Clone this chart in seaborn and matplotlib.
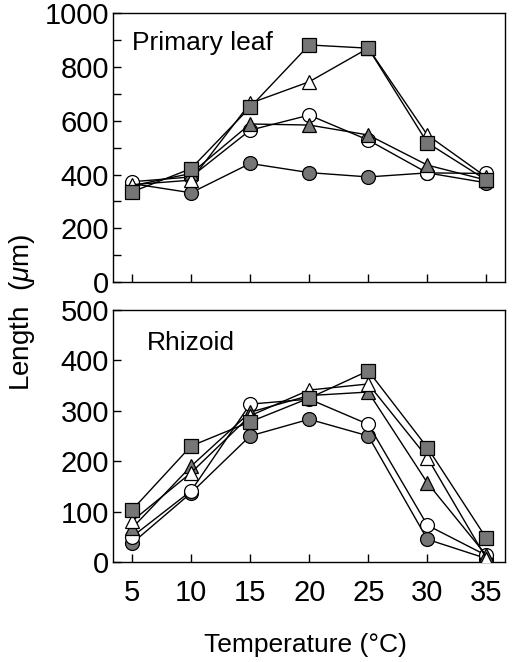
import numpy as np
import pandas as pd
import seaborn as sns
import matplotlib.pyplot as plt

# Temperatures (deg C)
temps = [5, 10, 15, 20, 25, 30, 35]

# Primary leaf length (um)
leaf_sq_filled = [335, 422, 650, 882, 870, 518, 379]
leaf_tri_open = [362, 379, 665, 745, 870, 547, 390]
leaf_circ_open = [373, 391, 565, 621, 528, 406, 404]
leaf_tri_filled = [358, 404, 588, 584, 547, 435, 379]
leaf_circ_filled = [366, 332, 441, 407, 391, 406, 369]

# Rhizoid length (um)
rhiz_sq_filled = [103, 230, 278, 325, 379, 227, 47]
rhiz_tri_open = [81, 177, 290, 341, 353, 207, 7]
rhiz_tri_filled = [67, 190, 297, 330, 337, 157, 13]
rhiz_circ_open = [50, 141, 313, 323, 273, 73, 13]
rhiz_circ_filled = [37, 137, 250, 283, 250, 45, 7]

sns.set_theme(style="ticks")
plt.rcParams['font.family'] = ['Liberation Sans', 'DejaVu Sans']
plt.rcParams['mathtext.fontset'] = 'custom'
plt.rcParams['mathtext.it'] = 'Liberation Sans:italic'
plt.rcParams['mathtext.rm'] = 'Liberation Sans'
plt.rcParams['text.color'] = 'black'
plt.rcParams['xtick.color'] = 'black'
plt.rcParams['ytick.color'] = 'black'
plt.rcParams['axes.edgecolor'] = 'black'

GRAY = '#767676'
# marker, face colour for each series (drawn bottom to top)
styles = {
    'circ_filled': ('o', GRAY),
    'circ_open': ('o', 'white'),
    'tri_filled': ('^', GRAY),
    'tri_open': ('^', 'white'),
    'sq_filled': ('s', GRAY),
}

leaf = {'circ_filled': leaf_circ_filled, 'circ_open': leaf_circ_open,
        'tri_filled': leaf_tri_filled, 'tri_open': leaf_tri_open,
        'sq_filled': leaf_sq_filled}
rhiz = {'circ_filled': rhiz_circ_filled, 'circ_open': rhiz_circ_open,
        'tri_filled': rhiz_tri_filled, 'tri_open': rhiz_tri_open,
        'sq_filled': rhiz_sq_filled}

fig = plt.figure(figsize=(5.14, 6.62), dpi=100)
ax1 = fig.add_axes([0.220, 0.574, 0.762, 0.406])
ax2 = fig.add_axes([0.220, 0.151, 0.762, 0.381])


def draw_panel(ax, series):
    for i, (key, vals) in enumerate(series.items()):
        marker, face = styles[key]
        df = pd.DataFrame({'temp': temps, 'len': vals})
        size = 10 if marker == 'o' else 10.5
        sns.lineplot(data=df, x='temp', y='len', ax=ax, color='black',
                     linewidth=1.0, marker=marker, markersize=size,
                     markerfacecolor=face, markeredgecolor='black',
                     markeredgewidth=0.9, zorder=3 + i)
    ax.set_xlim(3.4, 36.55)
    ax.set_xticks(temps)
    ax.set_xlabel('')
    ax.set_ylabel('')
    ax.tick_params(direction='in', labelsize=21, length=6, width=1,
                   top=False, right=False, pad=3)
    ax.tick_params(axis='x', pad=12)
    for s in ax.spines.values():
        s.set_visible(True)
        s.set_linewidth(1.0)
        s.set_color('black')


draw_panel(ax1, leaf)
ax1.set_ylim(0, 1000)
ax1.set_yticks([0, 200, 400, 600, 800, 1000])
ax1.set_yticks(np.arange(100, 1000, 200), minor=True)
ax1.tick_params(axis='y', which='minor', direction='in', length=6, width=1)
ax1.set_xticklabels([])
ax1.text(0.048, 0.89, 'Primary leaf', transform=ax1.transAxes,
         fontsize=19, va='center', ha='left')

draw_panel(ax2, rhiz)
ax2.set_ylim(0, 500)
ax2.set_yticks([0, 100, 200, 300, 400, 500])
ax2.text(0.087, 0.87, 'Rhizoid', transform=ax2.transAxes,
         fontsize=19, va='center', ha='left')

fig.text(0.043, 0.529, r'Length  ($\mathit{\mu}$m)', rotation=90,
         fontsize=20, ha='center', va='center')
fig.text(0.595, 0.026, 'Temperature (\u00b0C)', fontsize=19,
         ha='center', va='center')

fig.savefig('out.png', dpi=100)
